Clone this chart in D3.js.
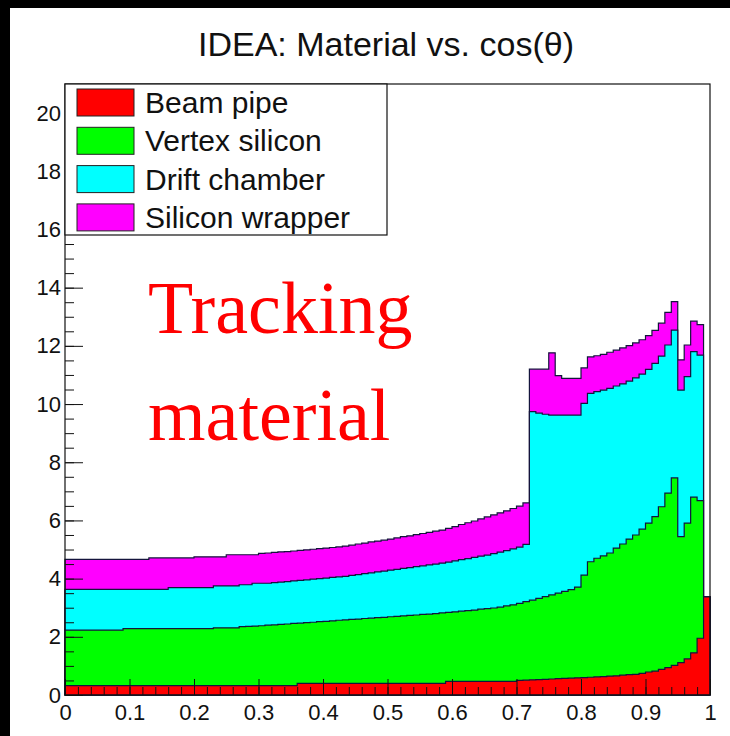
<!DOCTYPE html>
<html>
<head>
<meta charset="utf-8">
<script src="https://cdn.jsdelivr.net/npm/d3@7"></script>
<style>
  html, body { margin: 0; padding: 0; background: #fff; }
  svg { display: block; }
</style>
</head>
<body>
<svg id="chart" width="730" height="736"></svg>
<script>
// Material budget per cos(theta) bin, 100 bins from 0 to 1
const nBins = 100;
const seriesNames = ["Beam pipe", "Vertex silicon", "Drift chamber", "Silicon wrapper"];
const seriesColors = ["#ff0000", "#00ff00", "#00ffff", "#ff00ff"];

const beamPipe = [
  0.32,0.32,0.32,0.32,0.32,0.32,0.32,0.32,0.32,0.32,
  0.32,0.32,0.32,0.32,0.32,0.32,0.32,0.32,0.32,0.32,
  0.32,0.32,0.32,0.32,0.32,0.32,0.32,0.32,0.32,0.32,
  0.32,0.32,0.32,0.32,0.32,0.32,0.40,0.40,0.40,0.40,
  0.40,0.40,0.40,0.40,0.40,0.40,0.40,0.40,0.40,0.40,
  0.40,0.40,0.40,0.40,0.40,0.40,0.40,0.40,0.40,0.47,
  0.47,0.47,0.47,0.47,0.47,0.47,0.47,0.47,0.47,0.47,
  0.50,0.51,0.52,0.53,0.54,0.55,0.56,0.57,0.58,0.59,
  0.60,0.61,0.62,0.63,0.65,0.66,0.68,0.70,0.71,0.74,
  0.79,0.82,0.88,0.94,1.02,1.11,1.24,1.45,1.95,3.37
];
const vertexSilicon = [
  1.91,1.91,1.91,1.91,1.91,1.91,1.91,1.91,1.91,1.96,
  1.96,1.96,1.96,1.96,1.96,1.96,1.96,1.96,1.96,1.96,
  1.96,1.96,1.96,1.99,1.99,1.99,1.99,2.03,2.04,2.05,
  2.06,2.08,2.09,2.11,2.12,2.14,2.07,2.09,2.10,2.12,
  2.13,2.15,2.17,2.18,2.20,2.21,2.23,2.24,2.26,2.27,
  2.29,2.30,2.32,2.34,2.35,2.37,2.38,2.40,2.42,2.37,
  2.39,2.41,2.43,2.45,2.48,2.50,2.52,2.55,2.59,2.63,
  2.65,2.70,2.74,2.79,2.84,2.89,2.94,2.99,3.04,3.12,
  3.52,3.97,4.08,4.15,4.23,4.39,4.51,4.66,4.79,4.96,
  5.12,5.31,5.59,6.00,6.44,4.33,4.67,5.35,4.73,0
];
const driftChamber = [
  1.40,1.40,1.40,1.40,1.40,1.40,1.40,1.40,1.40,1.35,
  1.35,1.35,1.35,1.35,1.35,1.35,1.41,1.41,1.41,1.41,
  1.41,1.41,1.41,1.44,1.44,1.44,1.44,1.44,1.43,1.47,
  1.46,1.44,1.45,1.45,1.46,1.46,1.47,1.47,1.48,1.48,
  1.49,1.49,1.49,1.50,1.51,1.53,1.54,1.56,1.57,1.59,
  1.60,1.62,1.63,1.64,1.66,1.67,1.69,1.70,1.71,1.73,
  1.75,1.77,1.79,1.81,1.82,1.84,1.87,1.89,1.90,1.92,
  1.93,1.97,6.48,6.37,6.27,6.18,6.12,6.06,6.00,5.91,
  5.90,5.79,5.73,5.70,5.66,5.57,5.50,5.43,5.40,5.33,
  5.28,5.27,5.18,5.09,5.08,5.04,5.03,5.00,5.00,0
];
const siliconWrapper = [
  1.03,1.03,1.03,1.03,1.03,1.03,1.03,1.03,1.03,1.03,
  1.03,1.03,1.03,1.08,1.08,1.08,1.02,1.02,1.02,1.02,
  1.06,1.06,1.06,1.00,1.00,1.07,1.07,1.03,1.03,0.98,
  1.03,1.04,1.04,1.04,1.03,1.03,1.03,1.03,1.03,1.03,
  1.03,1.03,1.03,1.04,1.04,1.05,1.05,1.06,1.06,1.06,
  1.07,1.08,1.09,1.09,1.10,1.11,1.12,1.13,1.14,1.16,
  1.18,1.21,1.23,1.25,1.28,1.31,1.33,1.35,1.37,1.39,
  1.41,1.42,1.46,1.51,1.55,2.14,1.36,1.26,1.26,1.26,
  1.22,1.25,1.23,1.23,1.24,1.23,1.24,1.22,1.20,1.18,
  1.16,1.13,1.13,1.12,0.98,1.04,1.09,1.05,1.05,0
];

const xTicks = [0, 0.1, 0.2, 0.3, 0.4, 0.5, 0.6, 0.7, 0.8, 0.9, 1];
const xTickLabels = ["0", "0.1", "0.2", "0.3", "0.4", "0.5", "0.6", "0.7", "0.8", "0.9", "1"];
const yTicks = [0, 2, 4, 6, 8, 10, 12, 14, 16, 18, 20];
const yTickLabels = ["0", "2", "4", "6", "8", "10", "12", "14", "16", "18", "20"];

const titleText = "IDEA: Material vs. cos(\u03b8)";
const noteLines = ["Tracking", "material"];

// ---- layout ----
const svg = d3.select("#chart");
const W = 730, H = 736;
const frame = { left: 65, right: 710, top: 84, bottom: 695 };

const x = d3.scaleLinear().domain([0, 1]).range([frame.left, frame.right]);
const y = d3.scaleLinear().domain([0, 21]).range([frame.bottom, frame.top]);

svg.append("rect").attr("width", W).attr("height", H).attr("fill", "#fff");

// table of bins for the stack
const seriesArrays = [beamPipe, vertexSilicon, driftChamber, siliconWrapper];
const rows = d3.range(nBins).map(i => {
  const r = { lo: i / nBins };
  seriesNames.forEach((k, j) => { r[k] = seriesArrays[j][i]; });
  return r;
});
const stacked = d3.stack().keys(seriesNames)(rows);

// each cumulative histogram is drawn filled from zero, outermost first
const area = d3.area()
  .curve(d3.curveStepAfter)
  .x(d => x(d.xv))
  .y0(y(0))
  .y1(d => y(d.v));

const plot = svg.append("g");
for (let j = stacked.length - 1; j >= 0; j--) {
  const pts = stacked[j].map(d => ({ xv: d.data.lo, v: d[1] }));
  pts.push({ xv: 1, v: stacked[j][nBins - 1][1] });
  plot.append("path")
    .attr("d", area(pts))
    .attr("fill", seriesColors[j])
    .attr("stroke", "#14143c")
    .attr("stroke-width", 1.2)
    .attr("stroke-linejoin", "miter");
}

// ---- axes ----
const fontSans = "'Liberation Sans', Arial, Helvetica, sans-serif";

const xMinor = d3.range(0, 51).map(i => i / 50);
svg.append("g")
  .attr("transform", `translate(0,${frame.bottom})`)
  .call(d3.axisBottom(x).tickValues(xMinor).tickSize(-8).tickFormat(""))
  .call(g => g.select(".domain").remove());
svg.append("g")
  .attr("transform", `translate(0,${frame.bottom})`)
  .call(d3.axisBottom(x).tickValues(xTicks).tickSize(-16).tickPadding(9)
    .tickFormat((d, i) => xTickLabels[i]))
  .call(g => g.select(".domain").remove())
  .call(g => g.selectAll("text")
    .attr("font-family", fontSans).attr("font-size", 22).attr("fill", "#111"));

const yMinor = d3.range(0, 43).map(i => i / 2);
svg.append("g")
  .attr("transform", `translate(${frame.left},0)`)
  .call(d3.axisLeft(y).tickValues(yMinor).tickSize(-9).tickFormat(""))
  .call(g => g.select(".domain").remove());
svg.append("g")
  .attr("transform", `translate(${frame.left},0)`)
  .call(d3.axisLeft(y).tickValues(yTicks).tickSize(-18).tickPadding(4)
    .tickFormat((d, i) => yTickLabels[i]))
  .call(g => g.select(".domain").remove())
  .call(g => g.selectAll("text")
    .attr("font-family", fontSans).attr("font-size", 22).attr("fill", "#111"));

svg.selectAll(".tick line").attr("stroke", "#111").attr("stroke-width", 1);

// frame
svg.append("rect")
  .attr("x", frame.left).attr("y", frame.top)
  .attr("width", frame.right - frame.left).attr("height", frame.bottom - frame.top)
  .attr("fill", "none").attr("stroke", "#111").attr("stroke-width", 1.2);

// ---- legend ----
const legend = svg.append("g");
legend.append("rect")
  .attr("x", frame.left).attr("y", frame.top)
  .attr("width", 322).attr("height", 151)
  .attr("fill", "#fff").attr("stroke", "#111").attr("stroke-width", 1.2);
seriesNames.forEach((name, j) => {
  const cy = 102.5 + j * 38.3;
  legend.append("rect")
    .attr("x", 77).attr("y", cy - 13.5).attr("width", 57).attr("height", 27)
    .attr("fill", seriesColors[j]).attr("stroke", "#222").attr("stroke-width", 1);
  legend.append("text")
    .attr("x", 145).attr("y", cy).attr("dy", "0.35em")
    .attr("font-family", fontSans).attr("font-size", 30).attr("fill", "#111")
    .text(name);
});

// ---- title and note ----
svg.append("text")
  .attr("x", 386).attr("y", 56).attr("text-anchor", "middle")
  .attr("font-family", fontSans).attr("font-size", 34).attr("fill", "#111")
  .text(titleText);

noteLines.forEach((t, i) => {
  svg.append("text")
    .attr("x", 148).attr("y", 333 + i * 107)
    .attr("font-family", "'Liberation Serif', 'Times New Roman', serif")
    .attr("font-size", 74).attr("fill", "#ff0000")
    .text(t);
});

// dark edges of the canvas
svg.append("rect").attr("x", 0).attr("y", 0).attr("width", W).attr("height", 8).attr("fill", "#000");
svg.append("rect").attr("x", 0).attr("y", 0).attr("width", 10).attr("height", H).attr("fill", "#000");
</script>
</body>
</html>
